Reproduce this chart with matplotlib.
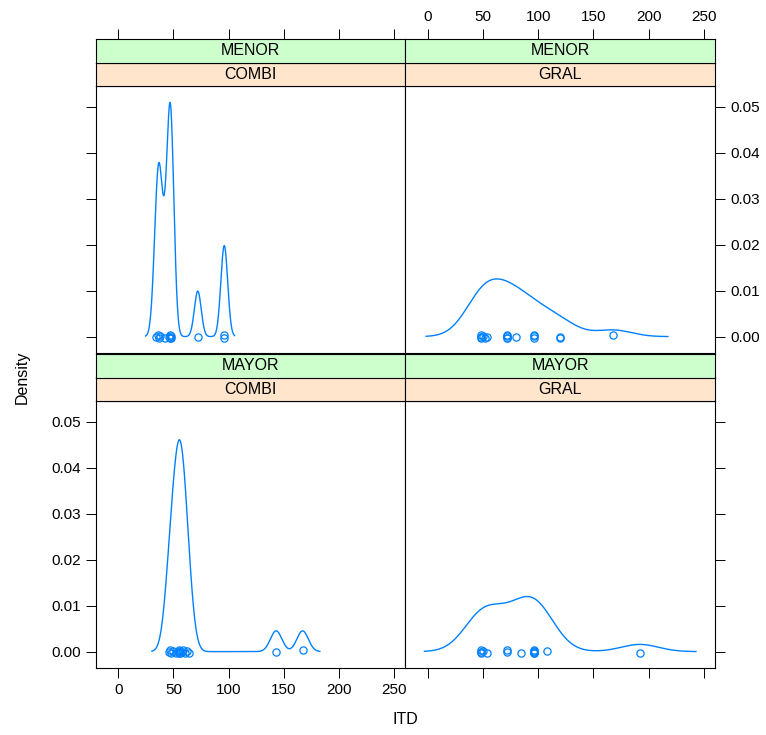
import numpy as np
import matplotlib
matplotlib.use('Agg')
import matplotlib.pyplot as plt

plt.rcParams['font.family'] = ['Liberation Sans', 'DejaVu Sans']

# ITD values (hours) per panel
menor_combi = [34, 36, 37, 38, 42, 46, 47, 47, 48, 48, 72, 96, 96]
menor_gral = [48, 48, 48, 50, 52, 54, 72, 72, 72, 72, 80, 96, 96, 96, 120, 120, 168]
mayor_combi = [46, 47, 48, 50, 52, 54, 55, 55, 56, 56, 58, 59, 60, 62, 64, 143, 167]
mayor_gral = [48, 48, 48, 50, 54, 72, 72, 84, 96, 96, 96, 96, 96, 108, 192]

# kernel bandwidths (as used by the density estimate in each panel)
bandwidths = {'menor_combi': 3.1, 'menor_gral': 16.5,
              'mayor_combi': 5.2, 'mayor_gral': 17.0}

panels = [
    # (row, col, outer strip, inner strip, data, bw key)
    (0, 0, 'MENOR', 'COMBI', menor_combi, 'menor_combi'),
    (0, 1, 'MENOR', 'GRAL', menor_gral, 'menor_gral'),
    (1, 0, 'MAYOR', 'COMBI', mayor_combi, 'mayor_combi'),
    (1, 1, 'MAYOR', 'GRAL', mayor_gral, 'mayor_gral'),
]

col = '#0080ff'
green = '#ccffcc'
peach = '#ffe5cc'


def kde(vals, bw, n=512):
    v = np.asarray(vals, float)
    xs = np.linspace(v.min() - 3 * bw, v.max() + 3 * bw, n)
    d = (xs[:, None] - v[None, :]) / bw
    ys = np.exp(-0.5 * d ** 2).sum(axis=1) / (len(v) * bw * np.sqrt(2 * np.pi))
    return xs, ys


curves = [kde(p[4], bandwidths[p[5]]) for p in panels]
xmin = min(c[0].min() for c in curves)
xmax = max(c[0].max() for c in curves)
ymax = max(c[1].max() for c in curves)
xpad = 0.07 * (xmax - xmin)
ypad = 0.07 * ymax
xlim = (xmin - xpad, xmax + xpad)
ylim = (-ypad, ymax + ypad)

W, H = 766, 735
fig = plt.figure(figsize=(W / 100, H / 100), dpi=100)

col_x = [96, 405.5]
col_w = 309.5
row_top = [86, 401]     # panel top (pixels from top)
panel_h = 267
strip_h = 23.5

xticks = [0, 50, 100, 150, 200, 250]
yticks = [0.00, 0.01, 0.02, 0.03, 0.04, 0.05]
tick_kw = dict(direction='out', length=7, width=0.7, labelsize=11, pad=4,
               colors='black')

for (r, c, outer, inner, vals, key), (xs, ys) in zip(panels, curves):
    x0 = col_x[c]
    top = row_top[r]
    ax = fig.add_axes([x0 / W, (H - top - panel_h) / H, col_w / W, panel_h / H])
    ax.plot(xs, ys, color=col, lw=1)
    offs = [0, 0.0004, -0.0004, 0.0002, -0.0002]
    jit = [offs[i % len(offs)] for i in range(len(vals))]
    ax.plot(vals, jit, 'o', mfc='none', mec=col, ms=5.2, mew=0.9)
    ax.set_xlim(*xlim)
    ax.set_ylim(*ylim)
    ax.set_xticks(xticks)
    ax.set_yticks(yticks)
    ax.set_yticklabels([f'{v:.2f}' for v in yticks])
    ax.tick_params(**tick_kw)
    for s in ax.spines.values():
        s.set_linewidth(0.8)
    # x axis: bottom only on the bottom row
    ax.tick_params(axis='x', top=False, labeltop=False,
                   bottom=(r == 1), labelbottom=(r == 1 and c == 0))
    # y axis: left column left side, right column right side
    if c == 0:
        ax.tick_params(axis='y', left=True, labelleft=(r == 1),
                       right=False, labelright=False)
    else:
        ax.tick_params(axis='y', left=False, labelleft=False,
                       right=True, labelright=(r == 0))

    # strips: inner (peach) next to panel, outer (green) on top
    for k, (txt, fc) in enumerate([(inner, peach), (outer, green)]):
        sb = top - (k + 1) * strip_h
        sa = fig.add_axes([x0 / W, (H - sb - strip_h) / H, col_w / W, strip_h / H])
        sa.set_facecolor(fc)
        sa.set_xlim(*xlim)
        sa.set_ylim(0, 1)
        sa.set_yticks([])
        for s in sa.spines.values():
            s.set_linewidth(0.8)
        sa.text(0.5, 0.5, txt, transform=sa.transAxes, ha='center',
                va='center', fontsize=11.5)
        if r == 0 and k == 1:
            sa.set_xticks(xticks)
            sa.tick_params(**tick_kw)
            sa.tick_params(axis='x', bottom=False, labelbottom=False,
                           top=True, labeltop=(c == 1))
        else:
            sa.set_xticks([])

fig.text(22 / W, 1 - 377 / H, 'Density', rotation=90, ha='center',
         va='center', fontsize=11.5)
fig.text(405 / W, 1 - 720 / H, 'ITD', ha='center', va='center', fontsize=11.5)

fig.savefig('out.png', dpi=100)
